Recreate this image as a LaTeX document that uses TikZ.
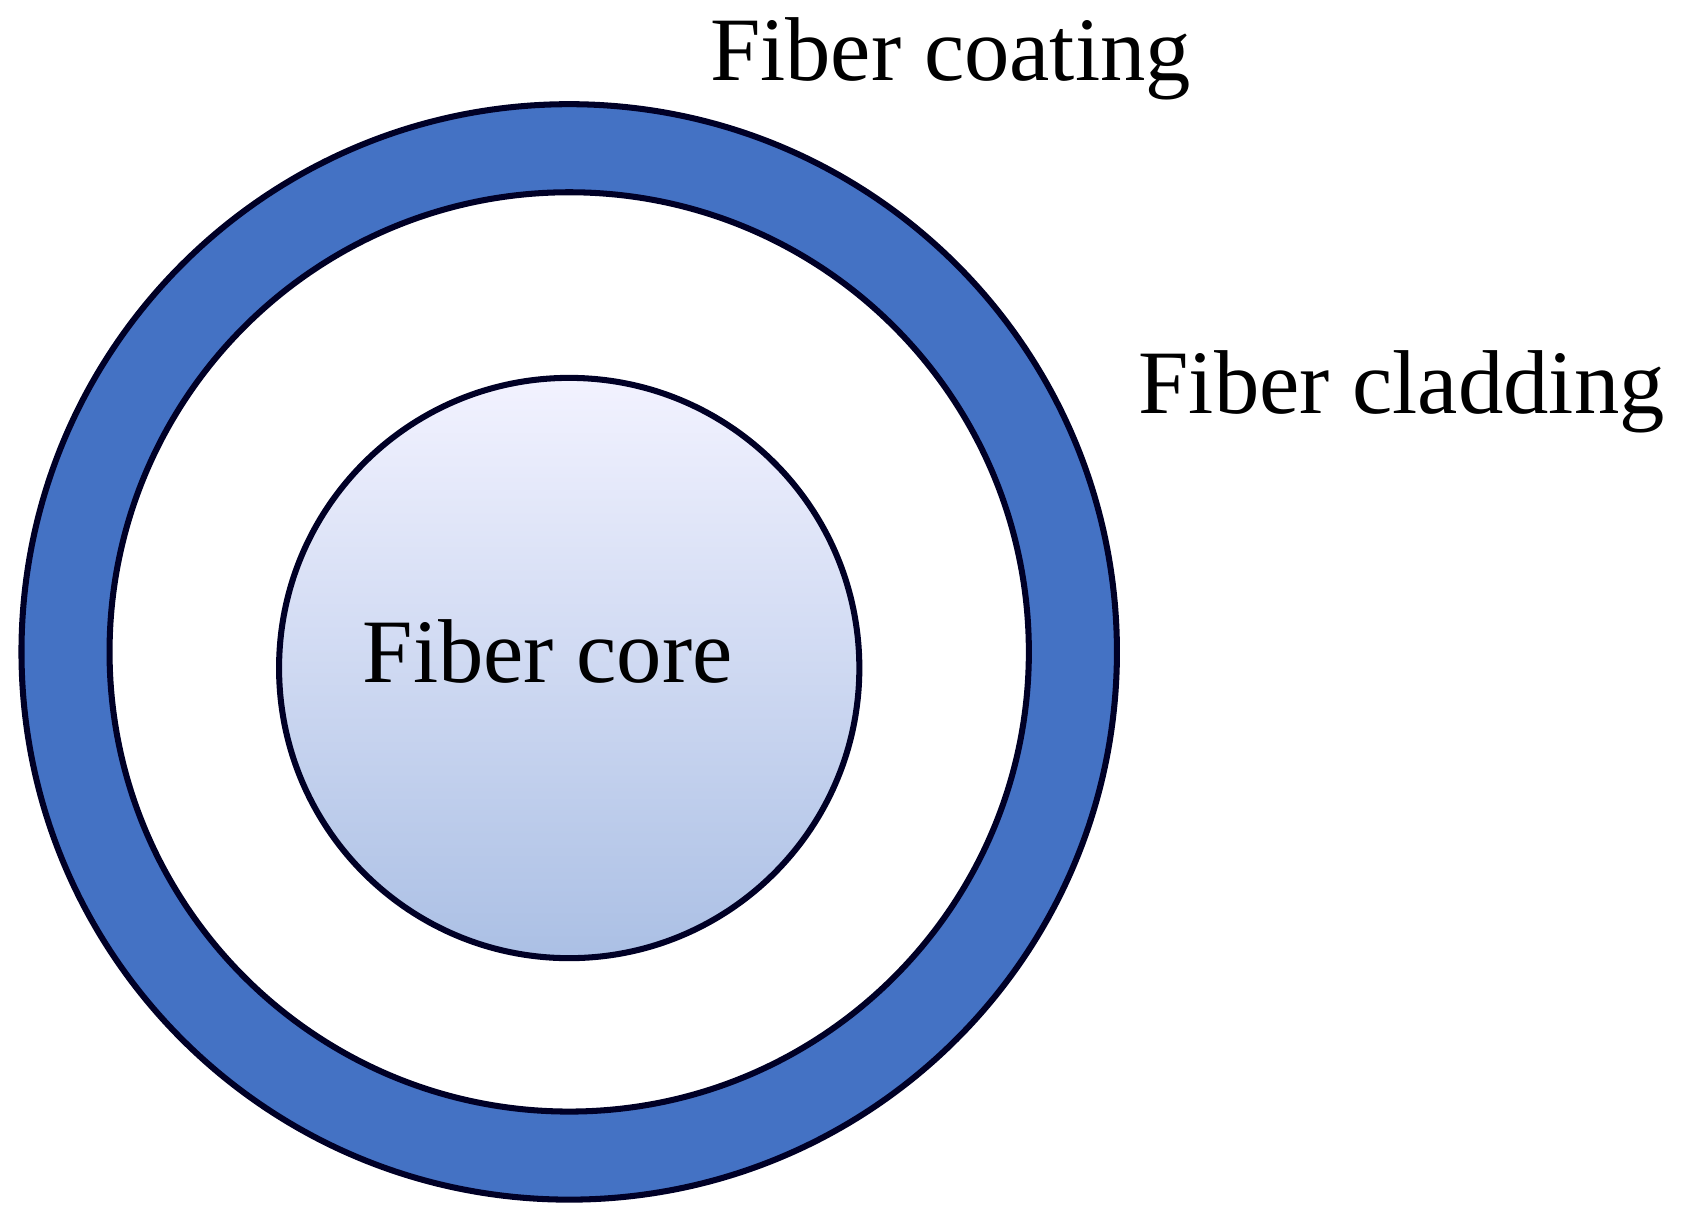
\documentclass[tikz,border=0pt]{standalone}
\usepackage{fontspec}
\setmainfont{Liberation Serif}
\begin{document}
\begin{tikzpicture}[x=0.01cm,y=-0.01cm,
  edge/.style={draw=black!85!blue, line width=1.6pt},
  lbl/.style={font=\fontsize{24}{28}\selectfont, inner sep=0pt}]
\definecolor{ring}{HTML}{4472C4}
\useasboundingbox (0,0) rectangle (1568,1142);
\fill[ring,even odd rule] (530,607) circle (510) (530,607) circle (428);
\draw[edge] (530,607) circle (510);
\draw[edge] (530,607) circle (428);
\node[edge, circle, minimum size=5.4cm, top color=blue!5!white, bottom color=ring!45!white] (core) at (530,622) {};
\node[lbl] (corel) at (510,607) {Fiber core};
\node[lbl] (coat) at (885,55) {Fiber coating};
\node[lbl] (clad) at (1305,365) {Fiber cladding};
\end{tikzpicture}
\end{document}
